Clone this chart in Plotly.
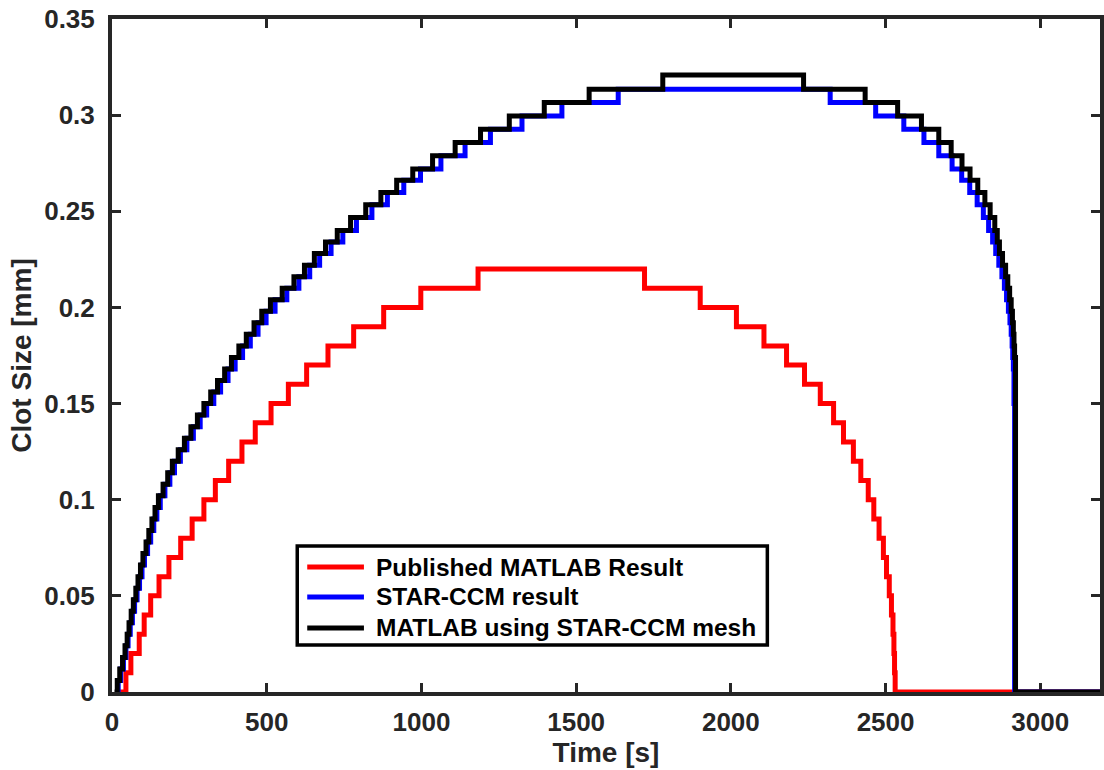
import plotly.graph_objects as go

# ---------------- data ----------------
x_tick_vals = [0, 500, 1000, 1500, 2000, 2500, 3000]
x_tick_text = ["0", "500", "1000", "1500", "2000", "2500", "3000"]
y_tick_vals = [0, 0.05, 0.1, 0.15, 0.2, 0.25, 0.3, 0.35]
y_tick_text = ["0", "0.05", "0.1", "0.15", "0.2", "0.25", "0.3", "0.35"]

series_names = ["Published MATLAB Result", "STAR-CCM result", "MATLAB using STAR-CCM mesh"]
series_colors = ["#FF0000", "#0000FF", "#000000"]

# Published MATLAB Result (time at which the value changes, new value)
red_t = [25, 45, 61, 88, 104, 125, 152, 184, 222, 259, 297, 334, 377, 420, 463,
         514, 570, 629, 698, 781, 878, 998, 1183, 1721, 1901, 2018, 2107, 2180,
         2238, 2289, 2332, 2364, 2396, 2420, 2444, 2462, 2479, 2493, 2503, 2512,
         2519, 2524, 2527, 2529, 2531, 3200]
red_v = [0, 0.01, 0.02, 0.03, 0.04, 0.05, 0.06, 0.07, 0.08, 0.09, 0.10, 0.11,
         0.12, 0.13, 0.14, 0.15, 0.16, 0.17, 0.18, 0.19, 0.20, 0.21, 0.22, 0.21,
         0.20, 0.19, 0.18, 0.17, 0.16, 0.15, 0.14, 0.13, 0.12, 0.11, 0.10, 0.09,
         0.08, 0.07, 0.06, 0.05, 0.04, 0.03, 0.02, 0.01, 0, 0]

# clot size levels used by the STAR-CCM mesh based curves (rising part)
mesh_levels = [0.006, 0.012, 0.018, 0.024, 0.030, 0.036, 0.042, 0.048, 0.054,
               0.060, 0.066, 0.072, 0.078, 0.084, 0.090, 0.096, 0.102, 0.108,
               0.114, 0.120, 0.126, 0.132, 0.138, 0.144, 0.150, 0.156, 0.162,
               0.168, 0.174, 0.180, 0.186, 0.192, 0.198, 0.204, 0.210, 0.216,
               0.222, 0.228, 0.234, 0.240, 0.2468, 0.2534, 0.2598, 0.2662,
               0.2720, 0.2789, 0.2858, 0.2927, 0.2996, 0.3066, 0.3135, 0.3209]

# MATLAB using STAR-CCM mesh
black_start_t = [8]
black_start_v = [0]
black_rise_t = [17, 25, 34, 42, 49, 55, 62, 69, 77, 84, 92, 100, 110, 119, 129,
                139, 150, 165, 180, 195, 214, 234, 255, 276, 297, 319, 341, 364,
                386, 410, 434, 459, 484, 512, 550, 588, 622, 654, 690, 728, 771,
                820, 869, 920, 972, 1036, 1109, 1191, 1284, 1397, 1542, 1780]
black_fall_t = [2235, 2434, 2539, 2616, 2672, 2712, 2747, 2773, 2798, 2821, 2838,
                2853, 2861, 2868, 2878, 2888, 2895, 2901, 2906, 2910, 2913, 2915,
                2917, 2920, 3200]
black_fall_v = [0.3135, 0.3066, 0.2996, 0.2927, 0.2858, 0.2789, 0.2720, 0.2662,
                0.2598, 0.2534, 0.2468, 0.240, 0.234, 0.228, 0.222, 0.216, 0.210,
                0.204, 0.198, 0.192, 0.186, 0.180, 0.174, 0, 0]

# STAR-CCM result
blue_start_t = [10]
blue_start_v = [0]
blue_rise_t = [20, 28, 37, 45, 52, 59, 66, 73, 81, 89, 97, 105, 115, 125, 135,
               145, 156, 171, 187, 202, 221, 242, 263, 285, 306, 329, 351, 375,
               398, 422, 447, 472, 498, 527, 565, 604, 639, 671, 708, 746, 790,
               840, 890, 943, 997, 1063, 1141, 1223, 1325, 1454, 1636]
blue_fall_t = [2321, 2468, 2559, 2624, 2672, 2715, 2746, 2772, 2796, 2816, 2833,
               2846, 2856, 2866, 2876, 2884, 2891, 2897, 2902, 2906, 2909, 2911,
               2913, 2915, 2917, 3200]
blue_fall_v = [0.3066, 0.2996, 0.2927, 0.2858, 0.2789, 0.2720, 0.2662, 0.2598,
               0.2534, 0.2468, 0.240, 0.234, 0.228, 0.222, 0.216, 0.210, 0.204,
               0.198, 0.192, 0.186, 0.180, 0.174, 0.168, 0.150, 0, 0]

black_t = black_start_t + black_rise_t + black_fall_t
black_v = black_start_v + mesh_levels + black_fall_v
blue_t = blue_start_t + blue_rise_t + blue_fall_t
blue_v = blue_start_v + mesh_levels[:len(blue_rise_t)] + blue_fall_v

# ---------------- figure ----------------
FONT = "Liberation Sans, Arial, Helvetica, sans-serif"
AX = "#262626"

fig = go.Figure()
for (xs, ys), name, color in zip([(red_t, red_v), (blue_t, blue_v), (black_t, black_v)],
                                 series_names, series_colors):
    fig.add_trace(go.Scatter(x=xs, y=ys, mode="lines", name=name, showlegend=False,
                             line=dict(color=color, width=5, shape="hv")))

axis_common = dict(
    showgrid=False, zeroline=False, showline=True, linewidth=4, linecolor=AX,
    mirror="ticks", ticks="inside", ticklen=9, tickwidth=3, tickcolor=AX,
    tickfont=dict(family=FONT, size=26, color=AX, weight="bold"),
    layer="below traces",
)

# legend box (MATLAB style), drawn in paper coordinates
leg_x0, leg_x1, leg_y0, leg_y1 = 0.1875, 0.6633, 0.0698, 0.2169
leg_line_x0, leg_line_x1, leg_text_x = 0.1976, 0.2550, 0.2651
leg_rows_y = [0.1857, 0.1412, 0.0951]

shapes = [dict(type="rect", xref="paper", yref="paper", x0=leg_x0, x1=leg_x1,
               y0=leg_y0, y1=leg_y1, line=dict(color="#000000", width=3.5),
               fillcolor="white", layer="above")]
annotations = []
for name, color, yy in zip(series_names, series_colors, leg_rows_y):
    shapes.append(dict(type="line", xref="paper", yref="paper", x0=leg_line_x0,
                       x1=leg_line_x1, y0=yy, y1=yy, line=dict(color=color, width=5),
                       layer="above"))
    annotations.append(dict(xref="paper", yref="paper", x=leg_text_x, y=yy, text=name,
                            showarrow=False, xanchor="left", yanchor="middle",
                            font=dict(family=FONT, size=24.5, color="#000000", weight="bold")))

fig.update_layout(
    width=1104, height=770,
    margin=dict(l=112, r=0, t=19, b=78),
    paper_bgcolor="white", plot_bgcolor="white",
    xaxis=dict(range=[0, 3193], tickvals=x_tick_vals, ticktext=x_tick_text,
               title=dict(text="Time [s]", standoff=6,
                          font=dict(family=FONT, size=28, color=AX, weight="bold")),
               ticklabelstandoff=4, **axis_common),
    yaxis=dict(range=[0, 0.35], tickvals=y_tick_vals, ticktext=y_tick_text,
               title=dict(text="Clot Size [mm]", standoff=5,
                          font=dict(family=FONT, size=28, color=AX, weight="bold")),
               ticklabelstandoff=8, **axis_common),
    shapes=shapes,
    annotations=annotations,
    showlegend=False,
)

fig.write_html("out.html")
